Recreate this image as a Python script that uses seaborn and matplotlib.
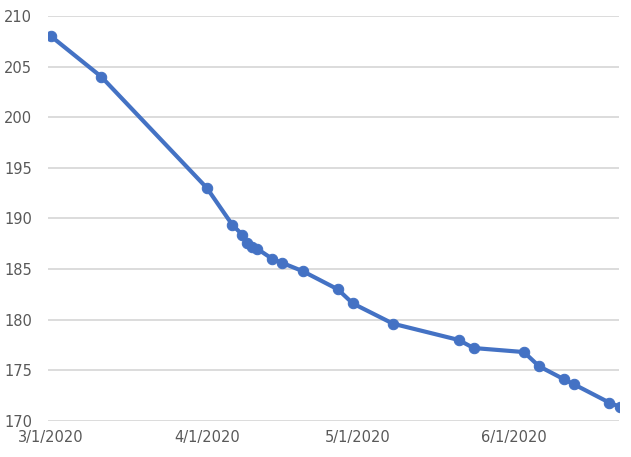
import pandas as pd
import matplotlib
matplotlib.use("Agg")
import matplotlib.pyplot as plt
import seaborn as sns

# values
dates = ["2020-03-01", "2020-03-11", "2020-04-01", "2020-04-06", "2020-04-08",
         "2020-04-09", "2020-04-10", "2020-04-11", "2020-04-14", "2020-04-16",
         "2020-04-20", "2020-04-27", "2020-04-30", "2020-05-08", "2020-05-21",
         "2020-05-24", "2020-06-03", "2020-06-06", "2020-06-11", "2020-06-13",
         "2020-06-20", "2020-06-22"]
values = [208.0, 204.0, 193.0, 189.4, 188.4,
          187.6, 187.2, 187.0, 186.0, 185.6,
          184.8, 183.0, 181.6, 179.6, 178.0,
          177.2, 176.8, 175.4, 174.1, 173.6,
          171.8, 171.4]
tick_dates = ["2020-03-01", "2020-04-01", "2020-05-01", "2020-06-01"]
tick_labels = ["3/1/2020", "4/1/2020", "5/1/2020", "6/1/2020"]
y_ticks = [170, 175, 180, 185, 190, 195, 200, 205, 210]

df = pd.DataFrame({"date": pd.to_datetime(dates), "value": values})

sns.set_style("white")
plt.rcParams['font.family'] = ['DejaVu Sans']

fig = plt.figure(figsize=(6.31, 4.57), dpi=100)
ax = fig.add_axes([0.076, 0.079, 0.905, 0.886])

sns.lineplot(data=df, x="date", y="value", ax=ax, color="#4472C4",
             linewidth=3.0, marker="o", markersize=7.5,
             markeredgecolor="#4472C4", zorder=3)

start = pd.Timestamp("2020-03-01")
ax.set_xlim(start - pd.Timedelta(days=0.6), start + pd.Timedelta(days=112.9))
ax.set_ylim(170, 210)
ax.set_yticks(y_ticks)
ax.set_xticks(pd.to_datetime(tick_dates))
ax.set_xticklabels(tick_labels)
ax.yaxis.grid(True, color="#D9D9D9", linewidth=1.3)
ax.xaxis.grid(False)
for s in ax.spines.values():
    s.set_visible(False)
ax.tick_params(axis="both", length=0, labelsize=10.5, colors="#595959")
ax.tick_params(axis="y", pad=11.5)
ax.tick_params(axis="x", pad=6.5)
ax.set_xlabel("")
ax.set_ylabel("")

fig.savefig("out.png", dpi=100)
